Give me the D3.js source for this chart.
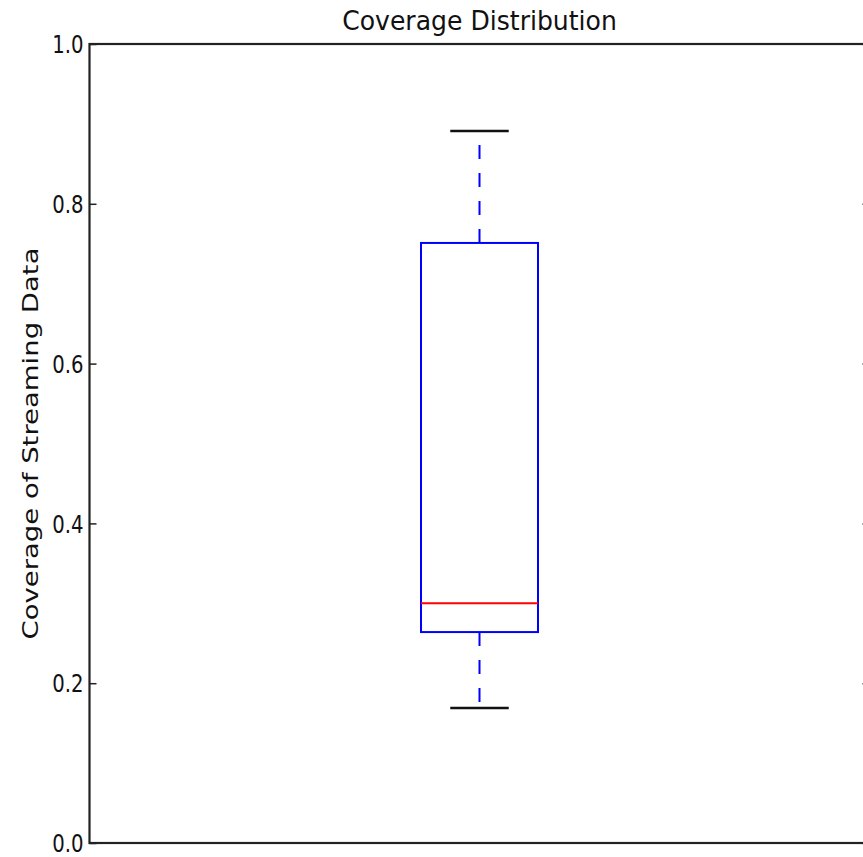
<!DOCTYPE html>
<html lang="en">
<head>
  <meta charset="UTF-8">
  <title>Coverage Distribution</title>
  <script src="https://d3js.org/d3.v7.min.js"></script>
  <style>
    body { margin: 0; background: #fff; }
    text { font-family: "DejaVu Sans", sans-serif; fill: #111; }
  </style>
</head>
<body>
  <div class="canvas"></div>
  <script>
    // box summary
    const positions = [1];
    const whiskerLow = [0.169];
    const q1 = [0.264];
    const median = [0.300];
    const q3 = [0.751];
    const whiskerHigh = [0.891];
    const yTicks = [0.0, 0.2, 0.4, 0.6, 0.8, 1.0];

    const width = 863;
    const height = 857;
    // axes box (right spine falls just outside the window)
    let [mt, mb, ml] = [44, 14, 89.5];
    const graphWidth = 780;
    const graphHeight = height - mt - mb;

    const svg = d3.select('.canvas')
      .append('svg')
      .attr('width', width)
      .attr('height', height);

    const x = d3.scaleLinear().domain([0.5, 1.5]).range([ml, ml + graphWidth]);
    const y = d3.scaleLinear().domain([0, 1]).range([mt + graphHeight, mt]);

    const boxW = 0.15;
    const data = positions.map((p, i) => ({
      pos: p, lo: whiskerLow[i], q1: q1[i], med: median[i], q3: q3[i], hi: whiskerHigh[i]
    }));

    // frame
    svg.append('rect')
      .attr('x', x(0.5)).attr('y', y(1))
      .attr('width', x(1.5) - x(0.5)).attr('height', y(0) - y(1))
      .attr('fill', 'none').attr('stroke', '#222').attr('stroke-width', 2.2);

    // left ticks (inward) and labels
    const leftAxis = d3.axisLeft(y).tickValues(yTicks).tickSize(-7).tickFormat(d3.format('.1f'));
    const lg = svg.append('g').attr('transform', `translate(${x(0.5)},0)`).call(leftAxis);
    lg.select('.domain').remove();
    lg.selectAll('.tick line').attr('stroke', '#222').attr('stroke-width', 1.5);
    lg.selectAll('.tick text').remove();
    lg.selectAll('.tick').append('text')
      .attr('transform', 'translate(-6,0) scale(0.82,1)')
      .attr('text-anchor', 'end')
      .attr('dy', '0.36em')
      .attr('font-size', 24)
      .text(d => d3.format('.1f')(d));

    // right ticks (inward)
    const rightAxis = d3.axisRight(y).tickValues(yTicks).tickSize(-7).tickFormat('');
    const rg = svg.append('g').attr('transform', `translate(${x(1.5)},0)`).call(rightAxis);
    rg.select('.domain').remove();
    rg.selectAll('.tick line').attr('stroke', '#222').attr('stroke-width', 1.5);

    const box = svg.selectAll('.box').data(data).enter().append('g').attr('class', 'box');

    // whiskers
    box.append('line')
      .attr('x1', d => x(d.pos)).attr('x2', d => x(d.pos))
      .attr('y1', d => y(d.q3)).attr('y2', d => y(d.hi))
      .attr('stroke', '#0000ff').attr('stroke-width', 2).attr('stroke-dasharray', '14,14');
    box.append('line')
      .attr('x1', d => x(d.pos)).attr('x2', d => x(d.pos))
      .attr('y1', d => y(d.q1)).attr('y2', d => y(d.lo))
      .attr('stroke', '#0000ff').attr('stroke-width', 2).attr('stroke-dasharray', '14,14');

    // caps
    [d => d.hi, d => d.lo].forEach(f => {
      box.append('line')
        .attr('x1', d => x(d.pos - boxW / 4)).attr('x2', d => x(d.pos + boxW / 4))
        .attr('y1', d => y(f(d))).attr('y2', d => y(f(d)))
        .attr('stroke', '#111').attr('stroke-width', 2.5);
    });

    // box
    box.append('rect')
      .attr('x', d => x(d.pos - boxW / 2))
      .attr('y', d => y(d.q3))
      .attr('width', d => x(d.pos + boxW / 2) - x(d.pos - boxW / 2))
      .attr('height', d => y(d.q1) - y(d.q3))
      .attr('fill', 'none').attr('stroke', '#0000ff').attr('stroke-width', 2);

    // median
    box.append('line')
      .attr('x1', d => x(d.pos - boxW / 2)).attr('x2', d => x(d.pos + boxW / 2))
      .attr('y1', d => y(d.med)).attr('y2', d => y(d.med))
      .attr('stroke', '#ff0000').attr('stroke-width', 2);

    // title
    svg.append('text')
      .attr('transform', `translate(${x(1)},30) scale(0.93,1)`)
      .attr('text-anchor', 'middle')
      .attr('font-size', 27)
      .text('Coverage Distribution');

    // y label
    svg.append('text')
      .attr('transform', `translate(38,${(y(0) + y(1)) / 2}) scale(0.8,1) rotate(-90)`)
      .attr('text-anchor', 'middle')
      .attr('font-size', 27.5)
      .text('Coverage of Streaming Data');
  </script>
</body>
</html>
